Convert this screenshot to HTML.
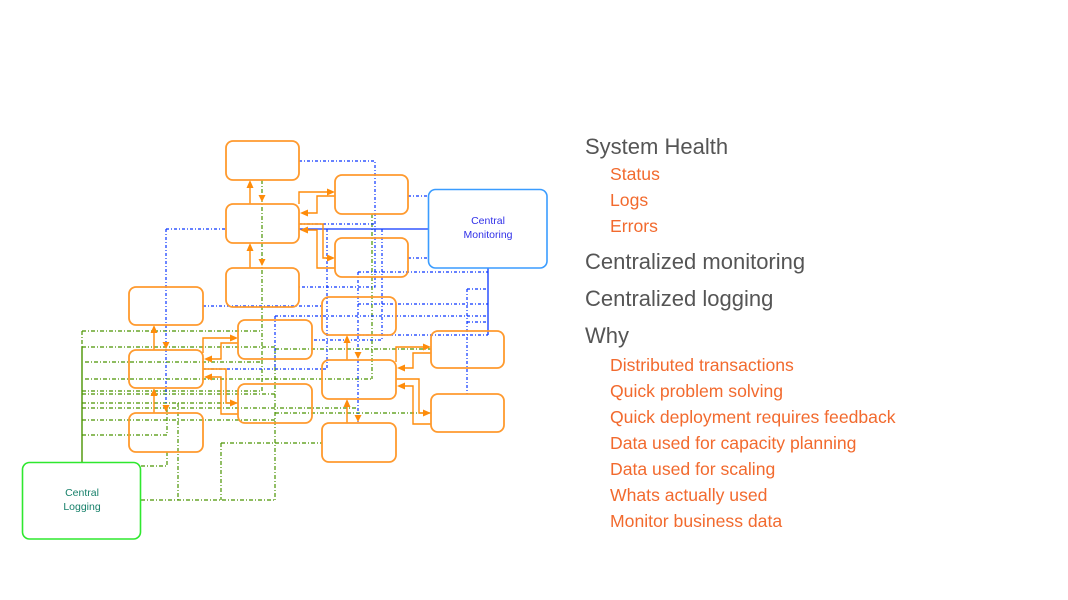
<!DOCTYPE html>
<html>
<head>
<meta charset="utf-8">
<style>
  html,body{margin:0;padding:0;background:#fff;}
  body{width:1068px;height:600px;position:relative;overflow:hidden;font-family:"Liberation Sans",sans-serif;}
  svg{position:absolute;left:0;top:0;}
  .t{position:absolute;white-space:nowrap;line-height:1;}
  .h{color:#555555;font-size:22px;left:585px;}
  .s{color:#f26a2e;font-size:17.6px;left:610px;}
</style>
</head>
<body>
<svg width="1068" height="600" viewBox="0 0 1068 600" xmlns="http://www.w3.org/2000/svg">
  <!-- GREEN dash-dot lines -->
  <g fill="none" stroke="#4a9400" stroke-width="1.2" stroke-dasharray="4 2 1 2">
    <path d="M82 331 V347"/>
    <path d="M82 331 H262"/>
    <path d="M82 347 H275"/>
    <path d="M275 349 H431"/>
    <path d="M85 362 H262"/>
    <path d="M85 379 H372"/>
    <path d="M82 391 H262"/>
    <path d="M82 394 H275"/>
    <path d="M82 403 H238"/>
    <path d="M82 408 H358"/>
    <path d="M82 420 H275"/>
    <path d="M82 435 H167 V408"/>
    <path d="M275 413 H431"/>
    <path d="M221 443 H322"/>
    <path d="M221 443 V500"/>
    <path d="M141 466 H167 V452"/>
    <path d="M141 500 H275"/>
    <path d="M262 180 V393"/>
    <path d="M372 214 V379"/>
    <path d="M275 349 V500"/>
    <path d="M178 403 V500"/>
  </g>
  <path d="M82 347 V462" stroke="#4a9400" stroke-width="1.4" fill="none"/>

  <!-- BLUE dash-dot lines -->
  <g fill="none" stroke="#0a36ff" stroke-width="1.2" stroke-dasharray="3 2 1 2">
    <path d="M299 161 H375 V287 H299"/>
    <path d="M299 224 H375"/>
    <path d="M166 229 H226"/>
    <path d="M166 229 V413"/>
    <path d="M408 196 H428"/>
    <path d="M408 258 H428"/>
    <path d="M203 306 H322"/>
    <path d="M327 229 V369"/>
    <path d="M203 369 H327"/>
    <path d="M382 229 V340 H312"/>
    <path d="M358 272 H488"/>
    <path d="M358 272 V423"/>
    <path d="M467 289 H488"/>
    <path d="M467 289 V394"/>
    <path d="M358 304 H488"/>
    <path d="M275 316 H488"/>
    <path d="M467 322 H488"/>
    <path d="M358 335 H488"/>
    <path d="M275 316 V369"/>
  </g>
  <path d="M299 229 H428" stroke="#0a36ff" stroke-width="1.3" fill="none"/>
  <path d="M488 268 V335" stroke="#0a36ff" stroke-width="1.3" fill="none"/>

  <!-- ORANGE connectors -->
  <g fill="none" stroke="#ff8c0a" stroke-width="1.4">
    <path d="M250 204 V186"/>
    <path d="M250 268 V249"/>
    <path d="M154 350 V331"/>
    <path d="M154 413 V394"/>
    <path d="M347 360 V341"/>
    <path d="M347 423 V405"/>
    <path d="M299 204 V192 H328"/>
    <path d="M335 196 H317 V213 H306"/>
    <path d="M299 224 H323 V258 H328"/>
    <path d="M335 268 H317 V230 H306"/>
    <path d="M203 353 V338 H231"/>
    <path d="M238 343 H221 V359 H210"/>
    <path d="M203 369 H226 V403 H231"/>
    <path d="M238 414 H221 V377 H210"/>
    <path d="M396 362 V347 H424"/>
    <path d="M431 353 H413 V368 H403"/>
    <path d="M396 379 H419 V413 H424"/>
    <path d="M431 424 H413 V386 H403"/>
  </g>
  <g fill="#ff8c0a" stroke="none">
    <!-- up arrows -->
    <polygon points="250,180 246.5,188 253.5,188"/>
    <polygon points="250,243 246.5,251 253.5,251"/>
    <polygon points="154,325 150.5,333 157.5,333"/>
    <polygon points="154,388 150.5,396 157.5,396"/>
    <polygon points="347,335 343.5,343 350.5,343"/>
    <polygon points="347,399 343.5,407 350.5,407"/>
    <!-- down arrows -->
    <polygon points="262,202 258.5,195 265.5,195"/>
    <polygon points="262,266 258.5,259 265.5,259"/>
    <polygon points="166,349 162.5,342 169.5,342"/>
    <polygon points="166,412 162.5,405 169.5,405"/>
    <polygon points="358,359 354.5,352 361.5,352"/>
    <polygon points="358,422 354.5,415 361.5,415"/>
    <!-- right arrows -->
    <polygon points="335,192 327,188.5 327,195.5"/>
    <polygon points="335,258 327,254.5 327,261.5"/>
    <polygon points="238,338 230,334.5 230,341.5"/>
    <polygon points="238,403 230,399.5 230,406.5"/>
    <polygon points="431,347 423,343.5 423,350.5"/>
    <polygon points="431,413 423,409.5 423,416.5"/>
    <!-- left arrows -->
    <polygon points="300,213 308,209.5 308,216.5"/>
    <polygon points="300,230 308,226.5 308,233.5"/>
    <polygon points="204,359 212,355.5 212,362.5"/>
    <polygon points="204,377 212,373.5 212,380.5"/>
    <polygon points="397,368 405,364.5 405,371.5"/>
    <polygon points="397,386 405,382.5 405,389.5"/>
  </g>

  <!-- ORANGE boxes -->
  <g fill="none" stroke="#ff9a2e" stroke-width="1.8">
    <rect x="226" y="141" width="73" height="39" rx="7"/>
    <rect x="226" y="204" width="73" height="39" rx="7"/>
    <rect x="226" y="268" width="73" height="39" rx="7"/>
    <rect x="129" y="287" width="74" height="38" rx="7"/>
    <rect x="129" y="350" width="74" height="38" rx="7"/>
    <rect x="129" y="413" width="74" height="39" rx="7"/>
    <rect x="335" y="175" width="73" height="39" rx="7"/>
    <rect x="335" y="238" width="73" height="39" rx="7"/>
    <rect x="322" y="297" width="74" height="38" rx="7"/>
    <rect x="238" y="320" width="74" height="39" rx="7"/>
    <rect x="238" y="384" width="74" height="39" rx="7"/>
    <rect x="322" y="360" width="74" height="39" rx="7"/>
    <rect x="322" y="423" width="74" height="39" rx="7"/>
    <rect x="431" y="331" width="73" height="37" rx="7"/>
    <rect x="431" y="394" width="73" height="38" rx="7"/>
  </g>

  <!-- Central Monitoring -->
  <rect x="428.5" y="189.5" width="118.5" height="78.5" rx="7" fill="none" stroke="#3a9cff" stroke-width="1.6"/>
  <text x="488" y="224" text-anchor="middle" font-family="Liberation Sans, sans-serif" font-size="10.5" fill="#3030e8">Central</text>
  <text x="488" y="238" text-anchor="middle" font-family="Liberation Sans, sans-serif" font-size="10.5" fill="#3030e8">Monitoring</text>

  <!-- Central Logging -->
  <rect x="22.5" y="462.5" width="118" height="76.5" rx="7" fill="none" stroke="#2ee82e" stroke-width="1.6"/>
  <text x="82" y="496" text-anchor="middle" font-family="Liberation Sans, sans-serif" font-size="10.5" fill="#17806a">Central</text>
  <text x="82" y="510" text-anchor="middle" font-family="Liberation Sans, sans-serif" font-size="10.5" fill="#17806a">Logging</text>
</svg>

<div class="t h" style="top:136px;">System Health</div>
<div class="t s" style="top:166px;">Status</div>
<div class="t s" style="top:192px;">Logs</div>
<div class="t s" style="top:218px;">Errors</div>
<div class="t h" style="top:251px;">Centralized monitoring</div>
<div class="t h" style="top:288px;">Centralized logging</div>
<div class="t h" style="top:325px;">Why</div>
<div class="t s" style="top:357px;">Distributed transactions</div>
<div class="t s" style="top:383px;">Quick problem solving</div>
<div class="t s" style="top:409px;">Quick deployment requires feedback</div>
<div class="t s" style="top:435px;">Data used for capacity planning</div>
<div class="t s" style="top:461px;">Data used for scaling</div>
<div class="t s" style="top:487px;">Whats actually used</div>
<div class="t s" style="top:513px;">Monitor business data</div>
</body>
</html>
